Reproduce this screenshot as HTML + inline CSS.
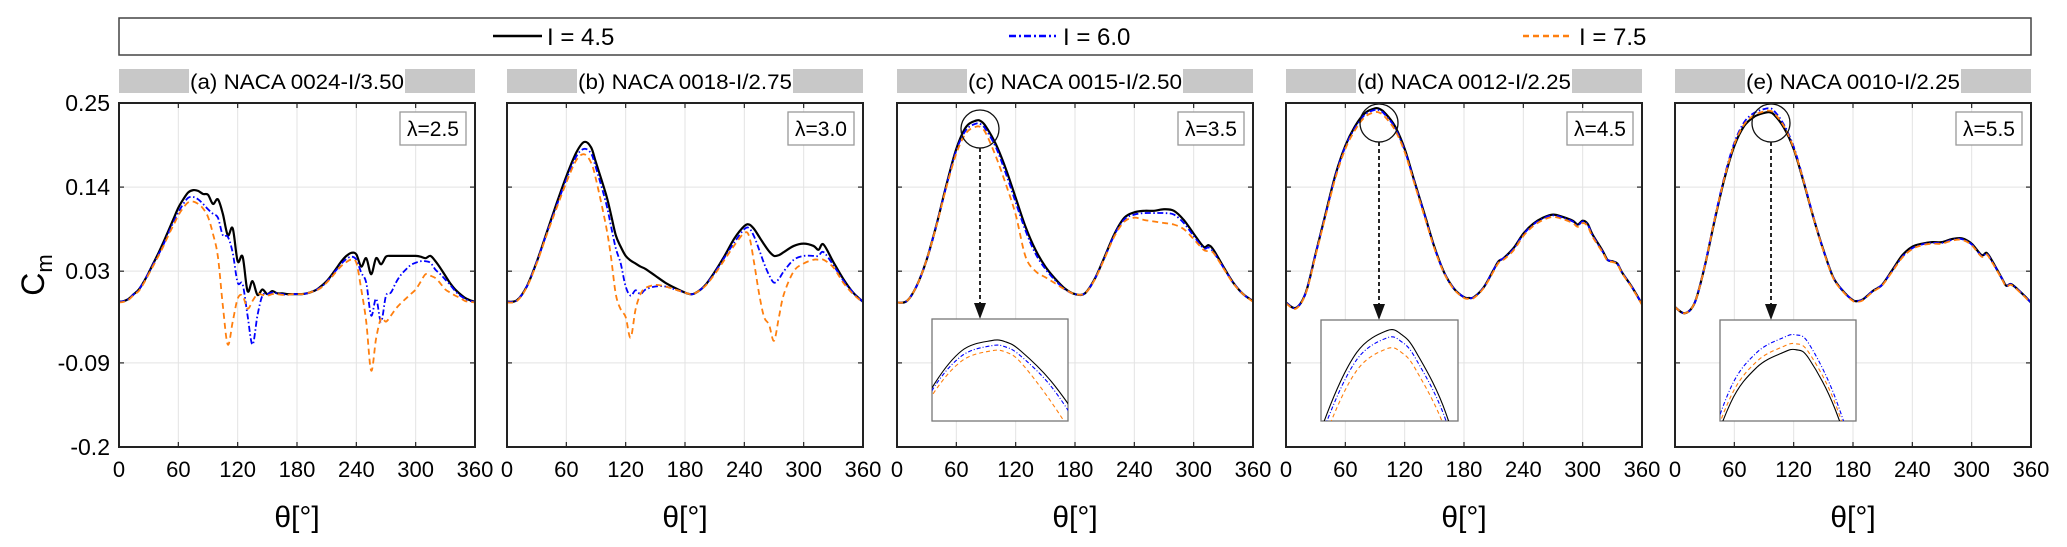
<!DOCTYPE html>
<html><head><meta charset="utf-8">
<style>
html,body{margin:0;padding:0;background:#fff;overflow:hidden;width:2067px;height:547px;}
svg{display:block;font-family:"Liberation Sans",Arial,sans-serif;}
</style></head>
<body>
<svg id="chart" width="2067" height="547" viewBox="0 0 2067 547" xmlns="http://www.w3.org/2000/svg">
<g>
  <rect x="119" y="18" width="1912" height="37" fill="#fff" stroke="#444" stroke-width="1.5"/>
  <g>
    <line x1="493" y1="36" x2="542" y2="36" stroke="#000" stroke-width="2.5"/>
    <text x="547" y="45" font-size="24">I = 4.5</text>
  </g>
  <g>
    <line x1="1009" y1="36" x2="1056" y2="36" stroke="#0000ff" stroke-width="2.5" stroke-dasharray="7,3,2,3"/>
    <text x="1063" y="45" font-size="24">I = 6.0</text>
  </g>
  <g>
    <line x1="1523" y1="36" x2="1573" y2="36" stroke="#ff7f0e" stroke-width="2.5" stroke-dasharray="6,4"/>
    <text x="1579" y="45" font-size="24">I = 7.5</text>
  </g>
</g>
<g id="panels"></g>
</svg>
<script>
// ---------- data ----------
const yTicks = [0.25, 0.14, 0.03, -0.09, -0.2];
const yTickLabels = ["0.25", "0.14", "0.03", "-0.09", "-0.2"];
const xTicks = [0, 60, 120, 180, 240, 300, 360];
const seriesNames = ["I = 4.5", "I = 6.0", "I = 7.5"];
const panelTitles = ["(a) NACA 0024-I/3.50", "(b) NACA 0018-I/2.75", "(c) NACA 0015-I/2.50", "(d) NACA 0012-I/2.25", "(e) NACA 0010-I/2.25"];
const lambdaLabels = ["λ=2.5", "λ=3.0", "λ=3.5", "λ=4.5", "λ=5.5"];

const thetaA = [0,5,10,15,20,25,30,35,40,45,50,55,60,65,70,75,80,85,90,95,100,105,110,115,120,125,130,135,140,145,150,155,160,165,170,175,180,185,190,195,200,205,210,215,220,225,230,235,240,245,250,255,260,265,270,275,280,285,290,295,300,305,310,315,320,325,330,335,340,345,350,355,360];
const blackA = [-0.010,-0.009,-0.006,0.000,0.006,0.016,0.028,0.041,0.054,0.068,0.083,0.098,0.113,0.124,0.133,0.136,0.135,0.131,0.130,0.118,0.124,0.105,0.077,0.086,0.043,0.049,0.004,0.017,-0.001,0.006,0.000,0.004,0.001,0.001,0.000,0.000,0.000,0.000,0.001,0.003,0.006,0.011,0.017,0.025,0.034,0.043,0.050,0.054,0.052,0.036,0.047,0.026,0.047,0.039,0.049,0.050,0.050,0.050,0.050,0.050,0.050,0.049,0.047,0.050,0.043,0.034,0.024,0.014,0.006,0.000,-0.005,-0.008,-0.010];
const blueA = [-0.010,-0.009,-0.006,0.000,0.006,0.016,0.028,0.040,0.052,0.065,0.080,0.094,0.107,0.118,0.126,0.127,0.124,0.118,0.111,0.105,0.100,0.077,0.075,0.054,0.015,0.013,-0.028,-0.066,-0.028,-0.002,0.000,0.002,0.001,0.000,-0.001,0.000,0.000,0.000,0.001,0.003,0.006,0.010,0.016,0.024,0.032,0.040,0.046,0.049,0.045,0.028,0.015,-0.028,-0.006,-0.036,-0.002,0.002,0.015,0.025,0.032,0.038,0.041,0.043,0.043,0.041,0.032,0.026,0.019,0.012,0.004,-0.002,-0.006,-0.009,-0.010];
const orangeA = [-0.011,-0.010,-0.007,-0.001,0.004,0.014,0.026,0.038,0.050,0.063,0.077,0.090,0.103,0.113,0.120,0.121,0.118,0.112,0.101,0.079,0.049,-0.015,-0.066,-0.036,-0.006,-0.002,-0.019,-0.009,0.000,-0.001,-0.002,0.000,0.000,-0.001,-0.001,0.000,0.000,0.000,0.001,0.003,0.005,0.009,0.015,0.022,0.030,0.037,0.042,0.045,0.041,0.006,-0.036,-0.100,-0.058,-0.032,-0.036,-0.028,-0.019,-0.012,-0.006,0.000,0.006,0.016,0.026,0.024,0.021,0.014,0.006,0.002,-0.002,-0.005,-0.009,-0.010,-0.011];

const thetaB = [0,10,20,30,40,50,60,70,78,85,90,100,105,110,115,120,125,130,135,140,150,160,170,180,185,190,200,210,220,230,240,245,250,255,260,265,270,275,280,290,300,310,315,320,330,340,350,360];
const blackB = [-0.010,-0.008,0.010,0.042,0.080,0.118,0.154,0.185,0.199,0.192,0.172,0.131,0.105,0.077,0.062,0.050,0.044,0.040,0.036,0.033,0.024,0.015,0.008,0.002,0.000,0.001,0.011,0.029,0.050,0.073,0.089,0.091,0.085,0.075,0.065,0.056,0.050,0.051,0.055,0.063,0.066,0.063,0.058,0.065,0.042,0.020,0.002,-0.010];
const blueB = [-0.010,-0.008,0.010,0.042,0.079,0.115,0.150,0.180,0.190,0.184,0.165,0.120,0.090,0.060,0.040,0.010,-0.002,0.005,0.000,0.006,0.010,0.010,0.006,0.002,0.000,0.001,0.011,0.028,0.048,0.068,0.085,0.086,0.075,0.058,0.040,0.025,0.015,0.020,0.030,0.045,0.050,0.050,0.050,0.055,0.038,0.018,0.002,-0.010];
const orangeB = [-0.011,-0.009,0.009,0.040,0.077,0.112,0.146,0.175,0.183,0.172,0.150,0.090,0.050,0.000,-0.020,-0.030,-0.057,-0.020,0.000,0.008,0.012,0.010,0.006,0.002,0.000,0.001,0.010,0.026,0.045,0.064,0.080,0.075,0.040,0.000,-0.030,-0.040,-0.061,-0.030,0.000,0.030,0.040,0.045,0.045,0.045,0.035,0.015,0.000,-0.011];

const thetaC = [0,10,20,30,40,50,60,70,80,85,90,100,110,120,130,140,150,160,170,180,190,200,210,220,230,240,250,260,270,280,290,300,310,315,320,330,340,350,360];
const blackC = [-0.011,-0.009,0.011,0.045,0.091,0.143,0.190,0.219,0.227,0.226,0.219,0.196,0.164,0.126,0.088,0.058,0.036,0.020,0.007,0.000,0.001,0.020,0.049,0.079,0.100,0.107,0.109,0.109,0.111,0.109,0.097,0.079,0.062,0.064,0.058,0.036,0.015,0.000,-0.009];
const blueC = [-0.011,-0.009,0.011,0.045,0.091,0.142,0.188,0.215,0.223,0.222,0.215,0.192,0.158,0.120,0.083,0.053,0.033,0.018,0.006,0.000,0.001,0.020,0.048,0.078,0.098,0.104,0.106,0.106,0.106,0.104,0.093,0.076,0.060,0.061,0.055,0.035,0.015,0.000,-0.009];
const orangeC = [-0.011,-0.009,0.011,0.045,0.090,0.140,0.184,0.211,0.219,0.218,0.210,0.180,0.144,0.104,0.049,0.030,0.022,0.014,0.006,0.000,0.001,0.019,0.047,0.076,0.095,0.100,0.097,0.095,0.093,0.091,0.085,0.072,0.058,0.056,0.054,0.034,0.014,0.000,-0.010];

const thetaD = [0,10,20,30,40,50,60,70,80,90,95,100,110,120,130,140,150,160,170,180,185,190,200,210,215,220,230,240,250,260,270,280,290,295,300,305,310,320,325,330,335,340,350,360];
const blackD = [-0.011,-0.018,0.002,0.053,0.105,0.156,0.194,0.220,0.237,0.243,0.242,0.237,0.220,0.190,0.147,0.105,0.062,0.028,0.007,-0.004,-0.005,-0.004,0.009,0.032,0.043,0.047,0.060,0.079,0.092,0.100,0.104,0.101,0.096,0.091,0.096,0.092,0.078,0.057,0.045,0.043,0.040,0.028,0.009,-0.013];
const blueD = [-0.011,-0.018,0.002,0.053,0.104,0.155,0.193,0.218,0.235,0.241,0.240,0.235,0.218,0.188,0.146,0.104,0.061,0.028,0.007,-0.004,-0.005,-0.004,0.009,0.032,0.043,0.047,0.059,0.078,0.091,0.099,0.103,0.100,0.095,0.090,0.095,0.091,0.077,0.056,0.045,0.043,0.040,0.028,0.009,-0.013];
const orangeD = [-0.012,-0.019,0.001,0.051,0.102,0.152,0.190,0.215,0.232,0.238,0.237,0.232,0.215,0.186,0.144,0.102,0.060,0.027,0.006,-0.005,-0.006,-0.005,0.008,0.030,0.041,0.045,0.057,0.076,0.089,0.097,0.101,0.098,0.093,0.088,0.093,0.089,0.075,0.055,0.044,0.042,0.039,0.027,0.008,-0.014];

const thetaE = [0,10,20,30,40,50,60,70,80,90,95,100,110,120,130,140,150,160,170,180,185,190,200,205,210,220,230,240,250,260,270,280,290,300,310,315,320,330,335,340,350,360];
const blackE = [-0.017,-0.025,-0.011,0.036,0.096,0.151,0.194,0.220,0.232,0.237,0.238,0.235,0.218,0.190,0.147,0.100,0.058,0.022,0.004,-0.008,-0.009,-0.007,0.004,0.008,0.013,0.032,0.051,0.062,0.066,0.068,0.068,0.072,0.073,0.066,0.051,0.054,0.045,0.022,0.011,0.013,0.002,-0.011];
const blueE = [-0.017,-0.025,-0.011,0.037,0.098,0.154,0.198,0.225,0.237,0.242,0.243,0.240,0.222,0.193,0.149,0.101,0.058,0.022,0.004,-0.008,-0.009,-0.007,0.004,0.008,0.013,0.031,0.049,0.060,0.065,0.067,0.067,0.071,0.072,0.065,0.050,0.053,0.044,0.022,0.011,0.013,0.002,-0.011];
const orangeE = [-0.017,-0.025,-0.011,0.036,0.097,0.152,0.196,0.222,0.234,0.239,0.240,0.237,0.220,0.191,0.148,0.100,0.057,0.021,0.003,-0.009,-0.010,-0.008,0.003,0.007,0.012,0.030,0.048,0.059,0.064,0.066,0.066,0.070,0.071,0.064,0.049,0.052,0.043,0.021,0.010,0.012,0.001,-0.012];

// ---------- layout (not data) ----------
const panelLefts = [119, 507, 897, 1286, 1675];
const PW = 356, TOP = 103, BOT = 447, YMIN = -0.2, YMAX = 0.25;
const panels = [
  {t: thetaA, s: [blackA, blueA, orangeA], inset: null},
  {t: thetaB, s: [blackB, blueB, orangeB], inset: null},
  {t: thetaC, s: [blackC, blueC, orangeC], inset: {x: 932, y: 319, w: 136, h: 102, t0: 60, t1: 106, v0: 0.164, v1: 0.244, cx: 980, cy: 129}},
  {t: thetaD, s: [blackD, blueD, orangeD], inset: {x: 1321, y: 320, w: 137, h: 101, t0: 68, t1: 114, v0: 0.218, v1: 0.246, cx: 1379, cy: 123}},
  {t: thetaE, s: [blackE, blueE, orangeE], inset: {x: 1720, y: 320, w: 136, h: 101, t0: 66, t1: 118, v0: 0.214, v1: 0.248, cx: 1771, cy: 123}}
];
const styles = [
  {c: "#000", d: "", w: 2.2},
  {c: "#0000ff", d: "6,2.5,1.5,2.5", w: 1.8},
  {c: "#ff7f0e", d: "6,4", w: 1.8}
];

const NS = "http://www.w3.org/2000/svg";
const root = document.getElementById("panels");
function mk(tag, attrs, parent) {
  const e = document.createElementNS(NS, tag);
  for (const k in attrs) e.setAttribute(k, attrs[k]);
  parent.appendChild(e);
  return e;
}
function smoothPath(pts) {
  let d = "M" + pts[0][0].toFixed(2) + "," + pts[0][1].toFixed(2);
  for (let i = 0; i < pts.length - 1; i++) {
    const p0 = pts[i - 1] || pts[i], p1 = pts[i], p2 = pts[i + 1], p3 = pts[i + 2] || p2;
    const c1x = p1[0] + (p2[0] - p0[0]) / 6, c1y = p1[1] + (p2[1] - p0[1]) / 6;
    const c2x = p2[0] - (p3[0] - p1[0]) / 6, c2y = p2[1] - (p3[1] - p1[1]) / 6;
    d += "C" + c1x.toFixed(2) + "," + c1y.toFixed(2) + " " + c2x.toFixed(2) + "," + c2y.toFixed(2) + " " + p2[0].toFixed(2) + "," + p2[1].toFixed(2);
  }
  return d;
}

panels.forEach((p, i) => {
  const L = panelLefts[i];
  const xs = th => L + th / 360 * PW;
  const ys = v => BOT - (v - YMIN) / (YMAX - YMIN) * (BOT - TOP);
  const g = mk("g", {}, root);
  
  

  const tb = mk("g", {}, g);
  
  
  mk("rect", {x: L, y: 69, width: PW, height: 24, fill: "#c8c8c8"}, tb);
  mk("rect", {x: L + 70, y: 69, width: PW - 140, height: 24, fill: "#fff"}, tb);
  const tt = mk("text", {x: L + PW / 2, y: 89, "font-size": 21, "text-anchor": "middle", textLength: 214, lengthAdjust: "spacingAndGlyphs"}, tb);
  tt.textContent = panelTitles[i];

  const grid = mk("g", {stroke: "#e3e3e3", "stroke-width": 1}, g);
  
  
  xTicks.forEach(t => { if (t > 0 && t < 360) mk("line", {x1: xs(t), y1: TOP, x2: xs(t), y2: BOT}, grid); });
  yTicks.forEach(v => { if (v > YMIN && v < YMAX) mk("line", {x1: L, y1: ys(v), x2: L + PW, y2: ys(v)}, grid); });

  const tk = mk("g", {stroke: "#222", "stroke-width": 1.2}, g);
  xTicks.forEach(t => { mk("line", {x1: xs(t), y1: BOT, x2: xs(t), y2: BOT - 5}, tk); mk("line", {x1: xs(t), y1: TOP, x2: xs(t), y2: TOP + 5}, tk); });
  yTicks.forEach(v => { mk("line", {x1: L, y1: ys(v), x2: L + 5, y2: ys(v)}, tk); mk("line", {x1: L + PW, y1: ys(v), x2: L + PW - 5, y2: ys(v)}, tk); });

  const xl = mk("g", {"font-size": 22, "text-anchor": "middle"}, g);
  
  
  xTicks.forEach(t => { const e = mk("text", {x: xs(t), y: 477}, xl); e.textContent = t; });
  const xt = mk("text", {x: L + PW / 2, y: 527, "font-size": 30, "text-anchor": "middle"}, g);
  
  
  xt.textContent = "θ[°]";

  if (i === 0) {
    const yl = mk("g", {"font-size": 23, "text-anchor": "end"}, g);
    
    
    yTicks.forEach((v, k) => { const e = mk("text", {x: 110, y: ys(v) + 8}, yl); e.textContent = yTickLabels[k]; });
    const yt = mk("text", {x: 0, y: 0, "font-size": 32, transform: "translate(44,275) rotate(-90)", "text-anchor": "middle"}, g);
    
    
    yt.innerHTML = 'C<tspan font-size="22" dy="8">m</tspan>';
  }

  const clipId = "clip" + i;
  const cp = mk("clipPath", {id: clipId}, g);
  mk("rect", {x: L, y: TOP, width: PW, height: BOT - TOP}, cp);
  [0, 1, 2].forEach(k => {
    const pts = p.t.map((th, j) => [xs(th), ys(p.s[k][j])]);
    const path = mk("path", {d: smoothPath(pts), fill: "none", stroke: styles[k].c, "stroke-width": styles[k].w, "stroke-dasharray": styles[k].d, "clip-path": "url(#" + clipId + ")"}, g);
    
    
  });

  if (p.inset) {
    const n = p.inset;
    const ig = mk("g", {}, g);
    
    
    mk("ellipse", {cx: n.cx, cy: n.cy, rx: 19, ry: 19, fill: "none", stroke: "#111", "stroke-width": 1.3}, ig);
    mk("line", {x1: n.cx, y1: n.cy + 19, x2: n.cx, y2: n.y - 14, stroke: "#111", "stroke-width": 1.8, "stroke-dasharray": "4,3"}, ig);
    mk("path", {d: `M${n.cx - 6},${n.y - 16} L${n.cx + 6},${n.y - 16} L${n.cx},${n.y} Z`, fill: "#111"}, ig);
    mk("rect", {x: n.x, y: n.y, width: n.w, height: n.h, fill: "#fff", stroke: "#777", "stroke-width": 1.3}, ig);
    const icid = "iclip" + i;
    const icp = mk("clipPath", {id: icid}, ig);
    mk("rect", {x: n.x, y: n.y, width: n.w, height: n.h}, icp);
    const ix = th => n.x + (th - n.t0) / (n.t1 - n.t0) * n.w;
    const iy = v => n.y + (n.v1 - v) / (n.v1 - n.v0) * n.h;
    [0, 1, 2].forEach(k => {
      const pts = p.t.map((th, j) => [ix(th), iy(p.s[k][j])]);
      const path = mk("path", {d: smoothPath(pts), fill: "none", stroke: styles[k].c, "stroke-width": 1.1, "stroke-dasharray": k === 0 ? "" : (k === 1 ? "4,2,1,2" : "4,3"), "clip-path": "url(#" + icid + ")"}, ig);
      
      
    });
  }

  const lb = mk("g", {}, g);
  
  
  mk("rect", {x: L + PW - 75, y: 112, width: 66, height: 33, fill: "#fff", stroke: "#999", "stroke-width": 1.3}, lb);
  const lt = mk("text", {x: L + PW - 42, y: 136, "font-size": 21, "text-anchor": "middle"}, lb);
  lt.textContent = lambdaLabels[i];

  const fr = mk("rect", {x: L, y: TOP, width: PW, height: BOT - TOP, fill: "none", stroke: "#222", "stroke-width": 2}, g);
  
  
});
</script>
</body></html>
